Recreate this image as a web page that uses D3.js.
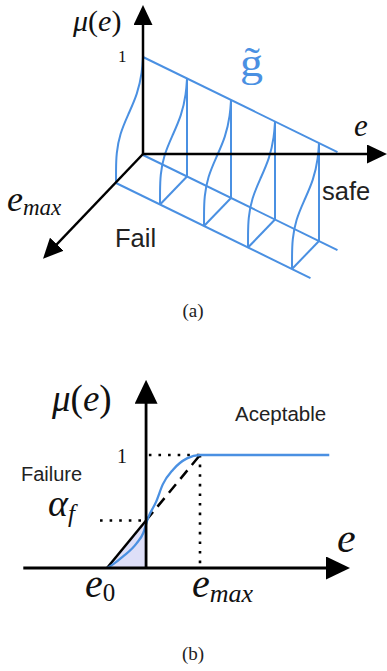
<!DOCTYPE html>
<html>
<head>
<meta charset="utf-8">
<script src="https://cdn.jsdelivr.net/npm/d3@7"></script>
<style>
  body { margin: 0; background: #fff; }
  svg { display: block; }
  .math { font-family: 'Liberation Serif', 'DejaVu Serif', serif; font-style: italic; fill: #111; }
  .up { font-style: normal; }
  .lbl { font-family: 'Liberation Sans', Arial, sans-serif; fill: #222; }
  .cap { font-family: 'Liberation Serif', serif; fill: #222; }
</style>
</head>
<body>
<div id="chart-area"></div>
<script>
// ---- panel (a) data: slices along e, membership profile across e_max ----
var slices = [0, 1, 2, 3, 4];
var sheetEnd = 4.42;            // where the blue sheet stops along e
var muAxisTop = 1.49;           // length of the mu axis (in mu units)
var emaxAxisEnd = 3.6;          // length of the e_max axis (in depth units)
// [depth, mu] points of one membership curve
var profile = [[0, 1], [0.03, 0.86], [0.2, 0.68], [0.55, 0.57], [0.86, 0.46], [0.99, 0.3], [1, 0.12], [1, 0]];

// ---- panel (b) data ----
var e0 = 0, eMax = 1, eAxisAt = 0.42, alphaF = 0.42;
var curveB = [[0, 0], [0.06, 0.03], [0.17, 0.1], [0.32, 0.22], [0.39, 0.31], [0.44, 0.44],
              [0.53, 0.59], [0.6, 0.74], [0.71, 0.87], [0.86, 0.97], [1, 1], [2.39, 1]];
var xAxisB = [-0.9, 2.57];
var yAxisB = [0, 1.63];

var blue = '#4a90e2';
var width = 387, height = 671;

var svg = d3.select('#chart-area').append('svg')
    .attr('width', width)
    .attr('height', height);

var defs = svg.append('defs');
function arrowMarker(id, len, wid) {
  defs.append('marker')
    .attr('id', id)
    .attr('markerUnits', 'userSpaceOnUse')
    .attr('viewBox', '0 0 ' + len + ' ' + wid)
    .attr('markerWidth', len)
    .attr('markerHeight', wid)
    .attr('refX', len - 4)
    .attr('refY', wid / 2)
    .attr('orient', 'auto')
  .append('path')
    .attr('d', 'M0,0L' + len + ',' + (wid / 2) + 'L0,' + wid + 'Z')
    .attr('fill', '#000');
}
arrowMarker('arrA', 20, 19);
arrowMarker('arrB', 24, 23);

// ================= panel (a) =================
var originA = [143, 155];
var sX = d3.scaleLinear().domain([0, 4]).range([0, 176]);
var sY = d3.scaleLinear().domain([0, 4]).range([0, 86]);
var dX = d3.scaleLinear().domain([0, 1]).range([0, -27]);
var dY = d3.scaleLinear().domain([0, 1]).range([0, 28]);
var hY = d3.scaleLinear().domain([0, 1]).range([0, -98]);

function proj(s, d, h) {
  return [originA[0] + sX(s) + dX(d), originA[1] + sY(s) + dY(d) + hY(h)];
}

var gA = svg.append('g');
var lineA = d3.line();

function seg(g, a, b, color, w) {
  return g.append('path')
    .attr('d', lineA([a, b]))
    .attr('fill', 'none')
    .attr('stroke', color)
    .attr('stroke-width', w);
}

// blue sheet: top edge, back floor edge, front floor edge
seg(gA, proj(0, 0, 1), proj(sheetEnd, 0, 1), blue, 2);
seg(gA, proj(0, 0, 0), proj(sheetEnd, 0, 0), blue, 2);
seg(gA, proj(0, 1, 0), proj(sheetEnd, 1, 0), blue, 2);

// verticals and floor connectors for each slice (slice 0 lies on black axes)
slices.filter(function(s){ return s > 0; }).forEach(function(s) {
  seg(gA, proj(s, 0, 0), proj(s, 0, 1), blue, 2);
  seg(gA, proj(s, 0, 0), proj(s, 1, 0), blue, 2);
});

// membership curves
var curveA = d3.line().curve(d3.curveBasis);
gA.selectAll('.mf')
  .data(slices)
  .enter().append('path')
    .attr('class', 'mf')
    .attr('d', function(s) {
      return curveA(profile.map(function(p){ return proj(s, p[0], p[1]); }));
    })
    .attr('fill', 'none')
    .attr('stroke', blue)
    .attr('stroke-width', 2);

// black axes
var axisOrigin = [143, 154];
seg(gA, axisOrigin, [axisOrigin[0], proj(0, 0, muAxisTop)[1]], '#000', 2.5).attr('marker-end', 'url(#arrA)');
seg(gA, axisOrigin, [383, axisOrigin[1]], '#000', 2.5).attr('marker-end', 'url(#arrA)');
seg(gA, axisOrigin, proj(0, emaxAxisEnd, 0), '#000', 2.5).attr('marker-end', 'url(#arrA)');

// labels (a)
var mu1 = gA.append('text').attr('class', 'math').attr('x', 73).attr('y', 31).attr('font-size', 30);
mu1.append('tspan').text('μ');
mu1.append('tspan').attr('class', 'up').text('(');
mu1.append('tspan').text('e');
mu1.append('tspan').attr('class', 'up').text(')');

gA.append('text').attr('class', 'math up').attr('x', 118).attr('y', 62).attr('font-size', 17).text('1');

// g with tilde (combining mark keeps it one text)
gA.append('text').attr('class', 'math up')
  .attr('transform', 'translate(240,76) scale(1.15,1)')
  .attr('font-size', 40).style('fill', blue).text('g\u0303');

gA.append('text').attr('class', 'math').attr('x', 354).attr('y', 136).attr('font-size', 31).text('e');

var em1 = gA.append('text').attr('class', 'math').attr('x', 7).attr('y', 211).attr('font-size', 36);
em1.append('tspan').text('e');
em1.append('tspan').attr('dy', 4).attr('font-size', 23).text('max');

gA.append('text').attr('class', 'lbl').attr('x', 322).attr('y', 200).attr('font-size', 25.5).text('safe');
gA.append('text').attr('class', 'lbl').attr('x', 115).attr('y', 247).attr('font-size', 25.5).text('Fail');

gA.append('text').attr('class', 'cap').attr('x', 193).attr('y', 317)
  .attr('text-anchor', 'middle').attr('font-size', 19).text('(a)');

// ================= panel (b) =================
var xB = d3.scaleLinear().domain([0, 1]).range([107, 200]);
var yB = d3.scaleLinear().domain([0, 1]).range([568, 455]);
var gB = svg.append('g');
var lineB = d3.line().x(function(d){ return xB(d[0]); }).y(function(d){ return yB(d[1]); });

// shaded failure region
gB.append('path')
  .attr('d', lineB([[e0, 0], [eAxisAt, alphaF], [eAxisAt, 0]]) + 'Z')
  .attr('fill', '#dedff8')
  .attr('stroke', 'none');

// dotted guides
function dotted(pts) {
  gB.append('path')
    .attr('d', lineB(pts))
    .attr('fill', 'none')
    .attr('stroke', '#000')
    .attr('stroke-width', 2.6)
    .attr('stroke-dasharray', '2.6 7');
}
dotted([[eAxisAt + 0.03, 1], [eMax, 1]]);
dotted([[eMax, 1], [eMax, 0]]);
dotted([[xB.invert(100), alphaF], [eAxisAt - 0.03, alphaF]]);

// linear approximation: solid up to the mu axis, dashed above
gB.append('path')
  .attr('d', lineB([[e0, 0], [eAxisAt, alphaF]]))
  .attr('stroke', '#000').attr('stroke-width', 2.5).attr('fill', 'none');
gB.append('path')
  .attr('d', lineB([[eAxisAt, alphaF], [eMax, 1]]))
  .attr('stroke', '#000').attr('stroke-width', 2.5).attr('fill', 'none')
  .attr('stroke-dasharray', '11 7');

// membership curve
gB.append('path')
  .attr('d', lineB.curve(d3.curveMonotoneX)(curveB))
  .attr('fill', 'none')
  .attr('stroke', blue)
  .attr('stroke-width', 2.3);
lineB.curve(d3.curveLinear);

// axes
gB.append('path')
  .attr('d', lineB([[xAxisB[0], 0], [xAxisB[1], 0]]))
  .attr('stroke', '#000').attr('stroke-width', 2.8).attr('fill', 'none')
  .attr('marker-end', 'url(#arrB)');
gB.append('path')
  .attr('d', lineB([[eAxisAt, yAxisB[0]], [eAxisAt, yAxisB[1]]]))
  .attr('stroke', '#000').attr('stroke-width', 2.8).attr('fill', 'none')
  .attr('marker-end', 'url(#arrB)');

// labels (b)
var mu2 = gB.append('text').attr('class', 'math').attr('x', 52).attr('y', 411).attr('font-size', 37);
mu2.append('tspan').text('μ');
mu2.append('tspan').attr('class', 'up').text('(');
mu2.append('tspan').text('e');
mu2.append('tspan').attr('class', 'up').text(')');

gB.append('text').attr('class', 'math up').attr('x', 117).attr('y', 463).attr('font-size', 20).text('1');
gB.append('text').attr('class', 'lbl').attr('x', 21).attr('y', 481).attr('font-size', 20).text('Failure');
gB.append('text').attr('class', 'lbl').attr('x', 235).attr('y', 421).attr('font-size', 20.5).text('Aceptable');

var af = gB.append('text').attr('class', 'math').attr('x', 48).attr('y', 516).attr('font-size', 38);
af.append('tspan').text('α');
af.append('tspan').attr('dy', 6).attr('font-size', 25).text('f');

var e0t = gB.append('text').attr('class', 'math').attr('x', 85).attr('y', 597).attr('font-size', 40);
e0t.append('tspan').text('e');
e0t.append('tspan').attr('class', 'up').attr('dy', 4).attr('font-size', 25).text('0');

var em2 = gB.append('text').attr('class', 'math').attr('x', 192).attr('y', 597).attr('font-size', 40);
em2.append('tspan').text('e');
em2.append('tspan').attr('dy', 5).attr('font-size', 26).text('max');

gB.append('text').attr('class', 'math').attr('x', 337).attr('y', 552).attr('font-size', 42).text('e');

gB.append('text').attr('class', 'cap').attr('x', 193).attr('y', 660)
  .attr('text-anchor', 'middle').attr('font-size', 19).text('(b)');
</script>
</body>
</html>
